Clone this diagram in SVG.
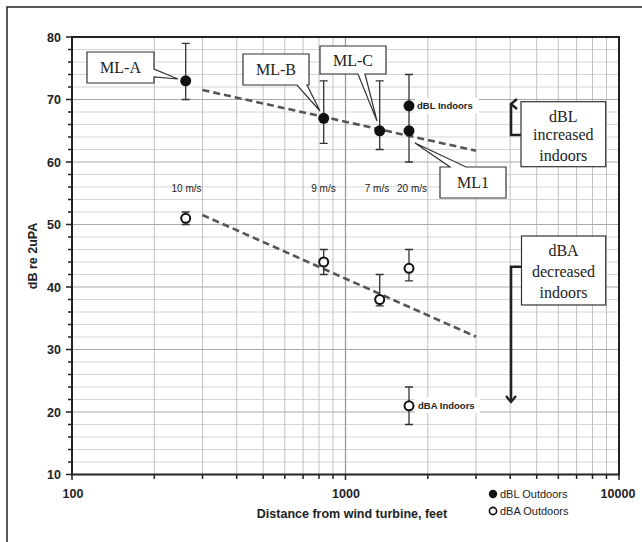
<svg xmlns="http://www.w3.org/2000/svg" width="642" height="542" viewBox="0 0 642 542">
<style>
.gmin{stroke:#d6d6d6;stroke-width:1}
.gmaj{stroke:#a9a9a9;stroke-width:1.2}
.gv{stroke:#c2c2c2;stroke-width:1}
.gv1{stroke:#9a9a9a;stroke-width:1.3}
.ax{stroke:#222;stroke-width:2;fill:none}
.tk{stroke:#222;stroke-width:1.5}
.err{stroke:#333;stroke-width:1.3;fill:none}
.trend{stroke:#555;stroke-width:2.6;stroke-dasharray:7 4;fill:none}
.fdot{fill:#111}
.odot{fill:#fff;stroke:#111;stroke-width:2}
.num{font-family:"Liberation Sans",Arial,sans-serif;font-weight:bold;font-size:12.5px;fill:#222}
.ttl{font-family:"Liberation Sans",Arial,sans-serif;font-weight:bold;font-size:12.5px;fill:#222}
.sm{font-family:"Liberation Sans",Arial,sans-serif;font-size:10px;fill:#222;text-anchor:middle}
.ind{font-family:"Liberation Sans",Arial,sans-serif;font-weight:bold;font-size:9.5px;fill:#222}
.leg{font-family:"Liberation Sans",Arial,sans-serif;font-size:11px;fill:#222}
.box{fill:#fff;stroke:#333;stroke-width:1.2}
.ser{font-family:"Liberation Serif","Times New Roman",serif;font-size:16px;fill:#222;text-anchor:middle}
.arr{stroke:#222;stroke-width:2.6;fill:none}
</style>
<defs>
<marker id="chev" viewBox="0 0 12 12" refX="6" refY="3" markerWidth="12" markerHeight="12" markerUnits="userSpaceOnUse" orient="auto-start-reverse">
<path d="M1,9 L6,3 L11,9" fill="none" stroke="#222" stroke-width="2.4"/>
</marker>
<marker id="chevd" viewBox="0 0 12 12" refX="6" refY="9" markerWidth="12" markerHeight="12" markerUnits="userSpaceOnUse">
<path d="M1,3 L6,9 L11,3" fill="none" stroke="#222" stroke-width="2.4"/>
</marker>
</defs>
<rect width="642" height="542" fill="#fff"/>
<path d="M7,542 V7 H642" fill="none" stroke="#222" stroke-width="1.5"/>

<g id="grid">
<g class="gmin">
<line x1="72" x2="619" y1="49.5" y2="49.5"/><line x1="72" x2="619" y1="62" y2="62"/><line x1="72" x2="619" y1="74.5" y2="74.5"/><line x1="72" x2="619" y1="87" y2="87"/>
<line x1="72" x2="619" y1="112" y2="112"/><line x1="72" x2="619" y1="124.5" y2="124.5"/><line x1="72" x2="619" y1="137" y2="137"/><line x1="72" x2="619" y1="149.5" y2="149.5"/>
<line x1="72" x2="619" y1="174.5" y2="174.5"/><line x1="72" x2="619" y1="187" y2="187"/><line x1="72" x2="619" y1="199.5" y2="199.5"/><line x1="72" x2="619" y1="212" y2="212"/>
<line x1="72" x2="619" y1="237" y2="237"/><line x1="72" x2="619" y1="249.5" y2="249.5"/><line x1="72" x2="619" y1="262" y2="262"/><line x1="72" x2="619" y1="274.5" y2="274.5"/>
<line x1="72" x2="619" y1="299.5" y2="299.5"/><line x1="72" x2="619" y1="312" y2="312"/><line x1="72" x2="619" y1="324.5" y2="324.5"/><line x1="72" x2="619" y1="337" y2="337"/>
<line x1="72" x2="619" y1="362" y2="362"/><line x1="72" x2="619" y1="374.5" y2="374.5"/><line x1="72" x2="619" y1="387" y2="387"/><line x1="72" x2="619" y1="399.5" y2="399.5"/>
<line x1="72" x2="619" y1="424.5" y2="424.5"/><line x1="72" x2="619" y1="437" y2="437"/><line x1="72" x2="619" y1="449.5" y2="449.5"/><line x1="72" x2="619" y1="462" y2="462"/>
</g>
<g class="gv">
<line x1="154.3" x2="154.3" y1="37" y2="474.5"/><line x1="202.5" x2="202.5" y1="37" y2="474.5"/><line x1="236.7" x2="236.7" y1="37" y2="474.5"/><line x1="263.2" x2="263.2" y1="37" y2="474.5"/>
<line x1="284.8" x2="284.8" y1="37" y2="474.5"/><line x1="303.1" x2="303.1" y1="37" y2="474.5"/><line x1="319" x2="319" y1="37" y2="474.5"/><line x1="333" x2="333" y1="37" y2="474.5"/>
<line x1="427.8" x2="427.8" y1="37" y2="474.5"/><line x1="476" x2="476" y1="37" y2="474.5"/><line x1="510.2" x2="510.2" y1="37" y2="474.5"/><line x1="536.7" x2="536.7" y1="37" y2="474.5"/>
<line x1="558.3" x2="558.3" y1="37" y2="474.5"/><line x1="576.6" x2="576.6" y1="37" y2="474.5"/><line x1="592.5" x2="592.5" y1="37" y2="474.5"/><line x1="606.5" x2="606.5" y1="37" y2="474.5"/>
</g>
<g class="gmaj">
<line x1="72" x2="619" y1="99.5" y2="99.5"/><line x1="72" x2="619" y1="162" y2="162"/><line x1="72" x2="619" y1="224.5" y2="224.5"/>
<line x1="72" x2="619" y1="287" y2="287"/><line x1="72" x2="619" y1="349.5" y2="349.5"/><line x1="72" x2="619" y1="412" y2="412"/>
</g>
<line class="gv1" x1="345.5" x2="345.5" y1="37" y2="474.5"/>
</g>

<g id="axes">
<rect class="ax" x="72" y="37" width="547" height="437.5"/>
<g class="tk">
<line x1="66" x2="72" y1="37" y2="37"/><line x1="68" x2="72" y1="49.5" y2="49.5"/><line x1="68" x2="72" y1="62" y2="62"/><line x1="68" x2="72" y1="74.5" y2="74.5"/><line x1="68" x2="72" y1="87" y2="87"/>
<line x1="66" x2="72" y1="99.5" y2="99.5"/><line x1="68" x2="72" y1="112" y2="112"/><line x1="68" x2="72" y1="124.5" y2="124.5"/><line x1="68" x2="72" y1="137" y2="137"/><line x1="68" x2="72" y1="149.5" y2="149.5"/>
<line x1="66" x2="72" y1="162" y2="162"/><line x1="68" x2="72" y1="174.5" y2="174.5"/><line x1="68" x2="72" y1="187" y2="187"/><line x1="68" x2="72" y1="199.5" y2="199.5"/><line x1="68" x2="72" y1="212" y2="212"/>
<line x1="66" x2="72" y1="224.5" y2="224.5"/><line x1="68" x2="72" y1="237" y2="237"/><line x1="68" x2="72" y1="249.5" y2="249.5"/><line x1="68" x2="72" y1="262" y2="262"/><line x1="68" x2="72" y1="274.5" y2="274.5"/>
<line x1="66" x2="72" y1="287" y2="287"/><line x1="68" x2="72" y1="299.5" y2="299.5"/><line x1="68" x2="72" y1="312" y2="312"/><line x1="68" x2="72" y1="324.5" y2="324.5"/><line x1="68" x2="72" y1="337" y2="337"/>
<line x1="66" x2="72" y1="349.5" y2="349.5"/><line x1="68" x2="72" y1="362" y2="362"/><line x1="68" x2="72" y1="374.5" y2="374.5"/><line x1="68" x2="72" y1="387" y2="387"/><line x1="68" x2="72" y1="399.5" y2="399.5"/>
<line x1="66" x2="72" y1="412" y2="412"/><line x1="68" x2="72" y1="424.5" y2="424.5"/><line x1="68" x2="72" y1="437" y2="437"/><line x1="68" x2="72" y1="449.5" y2="449.5"/><line x1="68" x2="72" y1="462" y2="462"/><line x1="66" x2="72" y1="474.5" y2="474.5"/>
<line x1="72" x2="72" y1="474.5" y2="480"/><line x1="154.3" x2="154.3" y1="474.5" y2="479"/><line x1="202.5" x2="202.5" y1="474.5" y2="479"/><line x1="236.7" x2="236.7" y1="474.5" y2="479"/><line x1="263.2" x2="263.2" y1="474.5" y2="479"/>
<line x1="284.8" x2="284.8" y1="474.5" y2="479"/><line x1="303.1" x2="303.1" y1="474.5" y2="479"/><line x1="319" x2="319" y1="474.5" y2="479"/><line x1="333" x2="333" y1="474.5" y2="479"/><line x1="345.5" x2="345.5" y1="474.5" y2="480"/>
<line x1="427.8" x2="427.8" y1="474.5" y2="479"/><line x1="476" x2="476" y1="474.5" y2="479"/><line x1="510.2" x2="510.2" y1="474.5" y2="479"/><line x1="536.7" x2="536.7" y1="474.5" y2="479"/><line x1="558.3" x2="558.3" y1="474.5" y2="479"/>
<line x1="576.6" x2="576.6" y1="474.5" y2="479"/><line x1="592.5" x2="592.5" y1="474.5" y2="479"/><line x1="606.5" x2="606.5" y1="474.5" y2="479"/><line x1="619" x2="619" y1="474.5" y2="480"/>
</g>
<g class="num" text-anchor="end">
<text x="61" y="41.5">80</text><text x="61" y="104">70</text><text x="61" y="166.5">60</text><text x="61" y="229">50</text>
<text x="61" y="291.5">40</text><text x="61" y="354">30</text><text x="61" y="416.5">20</text><text x="61" y="479">10</text>
</g>
<g class="num" text-anchor="middle">
<text x="73" y="497.5">100</text><text x="346" y="497.5">1000</text><text x="618" y="497.5">10000</text>
</g>
<text class="ttl" x="352" y="517.5" text-anchor="middle">Distance from wind turbine, feet</text>
<text class="ttl" transform="translate(37,256) rotate(-90)" text-anchor="middle">dB re 2uPA</text>
</g>

<g id="trendlines">
<line class="trend" x1="202.5" y1="90" x2="476" y2="150.7"/>
<line class="trend" x1="202.5" y1="215" x2="476" y2="336.7"/>
</g>

<g id="errorbars" class="err">
<path d="M185.7,43.3 V99.5 M181.7,43.3 H189.7 M181.7,99.5 H189.7"/>
<path d="M323.7,80.8 V143.3 M319.7,80.8 H327.7 M319.7,143.3 H327.7"/>
<path d="M379.7,80.8 V149.5 M375.7,80.8 H383.7 M375.7,149.5 H383.7"/>
<path d="M409,74.5 V162 M405,74.5 H413 M405,162 H413"/>
<path d="M185.7,212 V224.5 M181.7,212 H189.7 M181.7,224.5 H189.7"/>
<path d="M323.7,249.5 V274.5 M319.7,249.5 H327.7 M319.7,274.5 H327.7"/>
<path d="M379.7,274.5 V305.8 M375.7,274.5 H383.7 M375.7,305.8 H383.7"/>
<path d="M409,249.5 V280.8 M405,249.5 H413 M405,280.8 H413"/>
<path d="M409,387 V424.5 M405,387 H413 M405,424.5 H413"/>
</g>

<g id="points">
<circle class="fdot" cx="185.7" cy="80.8" r="5.5"/>
<circle class="fdot" cx="323.7" cy="118.3" r="5.5"/>
<circle class="fdot" cx="379.7" cy="130.8" r="5.5"/>
<circle class="fdot" cx="409" cy="130.8" r="5.5"/>
<circle class="fdot" cx="409" cy="105.8" r="5.5"/>
<circle class="odot" cx="185.7" cy="218.3" r="4.5"/>
<circle class="odot" cx="323.7" cy="262" r="4.5"/>
<circle class="odot" cx="379.7" cy="299.5" r="4.5"/>
<circle class="odot" cx="409" cy="268.3" r="4.5"/>
<circle class="odot" cx="409" cy="405.8" r="4.5"/>
</g>

<g id="speed-labels">
<text class="sm" x="186.5" y="191.5">10 m/s</text>
<text class="sm" x="323.5" y="191.5">9 m/s</text>
<text class="sm" x="377" y="191.5">7 m/s</text>
<text class="sm" x="412" y="191.5">20 m/s</text>
</g>

<g id="label-dBL-indoors">
<rect x="415" y="98" width="64" height="15.5" fill="#fff"/>
<text class="ind" x="417" y="109">dBL Indoors</text>
</g>
<g id="label-dBA-indoors">
<rect x="415" y="397.5" width="65" height="15.5" fill="#fff"/>
<text class="ind" x="418" y="408.5">dBA Indoors</text>
</g>

<g id="connectors">
<path class="arr" d="M521,135 H511 V104" marker-end="url(#chev)"/>
<path class="arr" d="M521,266.7 H511 V402" marker-end="url(#chevd)"/>
</g>

<g id="callout-ML-A">
<path class="box" d="M87,52 H154 V69 L178,79 L154,77 V83 H87 Z"/>
<text class="ser" x="120.5" y="73">ML-A</text>
</g>
<g id="callout-ML-B">
<path class="box" d="M243,54 H309 V85 H307 L320,111 L297,85 H243 Z"/>
<text class="ser" x="276" y="75">ML-B</text>
</g>
<g id="callout-ML-C">
<path class="box" d="M320,46 H386 V74 H365 L377,121 L358,74 H320 Z"/>
<text class="ser" x="353" y="66">ML-C</text>
</g>
<g id="callout-ML1">
<path class="box" d="M440,167 H450 L415,143 L466,167 H506 V198 H440 Z"/>
<text class="ser" x="473" y="188">ML1</text>
</g>

<g id="box-dBL">
<rect class="box" x="521" y="101.7" width="84.7" height="65"/>
<text class="ser" x="563.3" y="122">dBL</text>
<text class="ser" x="563.3" y="140">increased</text>
<text class="ser" x="563.3" y="160.5">indoors</text>
</g>
<g id="box-dBA">
<rect class="box" x="521.5" y="236" width="84.2" height="69"/>
<text class="ser" x="563.5" y="255.5">dBA</text>
<text class="ser" x="563.5" y="277">decreased</text>
<text class="ser" x="563.5" y="298">indoors</text>
</g>

<g id="legend">
<circle cx="493" cy="494" r="4.2" fill="#111"/>
<text class="leg" x="500" y="498">dBL Outdoors</text>
<circle cx="493" cy="511" r="3.6" fill="#fff" stroke="#111" stroke-width="1.6"/>
<text class="leg" x="500" y="515">dBA Outdoors</text>
</g>
</svg>
